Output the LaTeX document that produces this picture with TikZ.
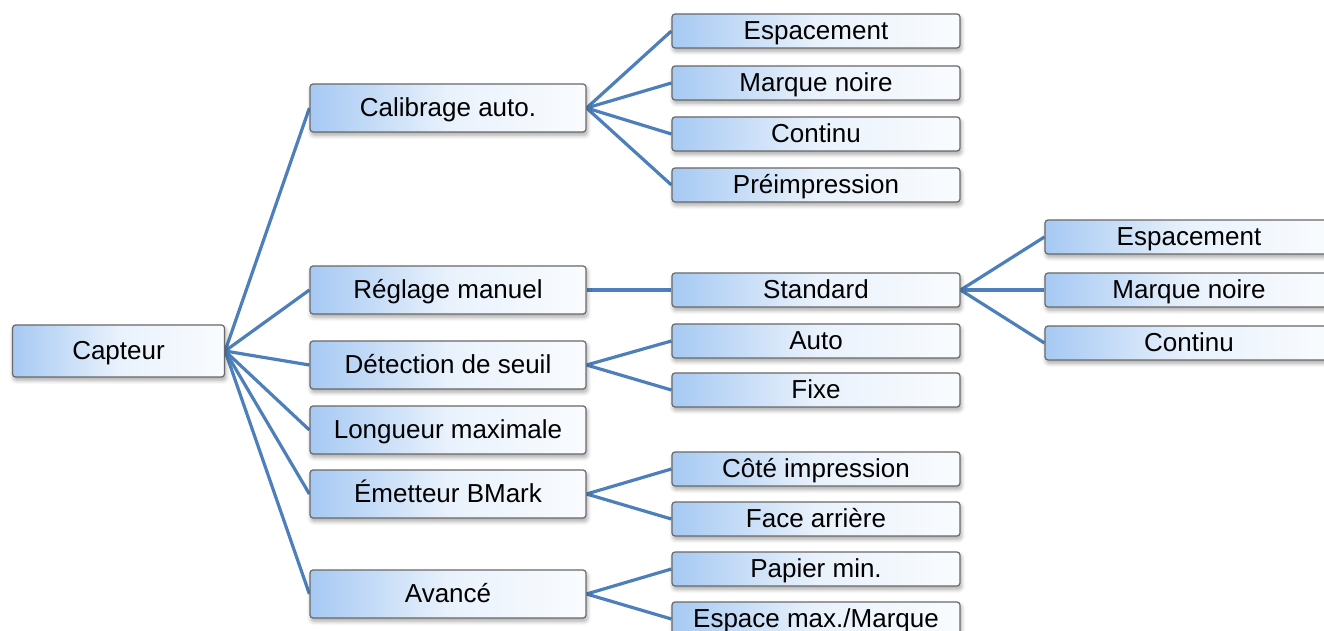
\documentclass[tikz,border=0pt]{standalone}
\usepackage{fontspec}
\setmainfont{Liberation Sans}
\usepackage{tikz}
\usetikzlibrary{shadows.blur,backgrounds}
\definecolor{LinkBlue}{RGB}{77,127,186}
\definecolor{BoxBlue}{RGB}{166,201,243}
\definecolor{BoxEdge}{RGB}{105,105,105}
\tikzset{
  basebox/.style={draw=BoxEdge,line width=0.6pt,rounded corners=1.5pt,
    left color=BoxBlue,right color=BoxBlue!6,middle color=BoxBlue!25,
    inner sep=1pt,align=center,text height=1.62ex,text depth=0pt,
    blur shadow={shadow xshift=0.6pt,shadow yshift=-1.6pt,
      shadow blur steps=6,shadow opacity=35}},
  rootbox/.style={basebox,minimum width=106pt,minimum height=26pt},
  menubox/.style={basebox,minimum width=138pt,minimum height=24pt},
  optbox/.style={basebox,minimum width=144pt,minimum height=17pt},
  link/.style={draw=LinkBlue,line width=1.6pt},
}

\begin{document}
\begin{tikzpicture}[x=0.5pt,y=-0.5pt,font=\fontsize{13pt}{15pt}\selectfont]
  \useasboundingbox (0,0) rectangle (1324,631);
  \clip (0,0) rectangle (1324,631);
  % root
  \node[rootbox] (cap) at (118.5,351) {Capteur};
  % first level
  \node[menubox] (calib)  at (448,108) {Calibrage auto.};
  \node[menubox] (manual) at (448,290) {Réglage manuel};
  \node[menubox] (seuil)  at (448,365) {Détection de seuil};
  \node[menubox] (longmax) at (448,430) {Longueur maximale};
  \node[menubox] (bmark)  at (448,494) {Émetteur BMark};
  \node[menubox] (adv)    at (448,594) {Avancé};
  % second level
  \node[optbox] (cEsp)  at (816,31)  {Espacement};
  \node[optbox] (cMrq)  at (816,83)  {Marque noire};
  \node[optbox] (cCont) at (816,134) {Continu};
  \node[optbox] (cPre)  at (816,185) {Préimpression};
  \node[optbox] (std)   at (816,290) {Standard};
  \node[optbox] (sAuto) at (816,341) {Auto};
  \node[optbox] (sFix)  at (816,390) {Fixe};
  \node[optbox] (bCote) at (816,469) {Côté impression};
  \node[optbox] (bFace) at (816,519) {Face arrière};
  \node[optbox] (aPap)  at (816,569) {Papier min.};
  \node[optbox] (aEsp)  at (816,619) {Espace max./Marque};
  % third level
  \node[optbox] (mEsp)  at (1189,237) {Espacement};
  \node[optbox] (mMrq)  at (1189,290) {Marque noire};
  \node[optbox] (mCont) at (1189,343) {Continu};
  % connectors
  \begin{scope}[on background layer]
    \foreach \kid in {calib,manual,seuil,longmax,bmark,adv}
      \draw[link] (cap.east) -- (\kid.west);
    \foreach \kid in {cEsp,cMrq,cCont,cPre}
      \draw[link] (calib.east) -- (\kid.west);
    \draw[link] (manual.east) -- (std.west);
    \foreach \kid in {mEsp,mMrq,mCont}
      \draw[link] (std.east) -- (\kid.west);
    \foreach \kid in {sAuto,sFix}
      \draw[link] (seuil.east) -- (\kid.west);
    \foreach \kid in {bCote,bFace}
      \draw[link] (bmark.east) -- (\kid.west);
    \foreach \kid in {aPap,aEsp}
      \draw[link] (adv.east) -- (\kid.west);
  \end{scope}
\end{tikzpicture}
\end{document}
